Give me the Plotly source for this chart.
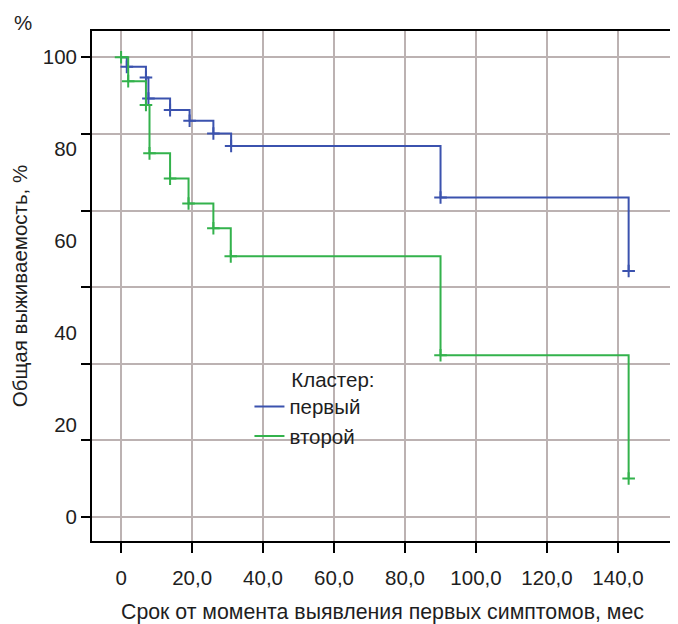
import plotly.graph_objects as go

# ---- data ----
blue_t = [0, 1.6, 7.0, 7.7, 13.8, 19.3, 26.0, 31.0, 90.0, 143.0]
blue_s = [100, 97.9, 95.6, 91.0, 88.5, 86.2, 83.4, 80.7, 69.5, 53.5]
green_t = [0, 2.0, 7.0, 8.0, 13.8, 19.0, 26.0, 30.9, 90.0, 143.0]
green_s = [100, 94.8, 89.6, 79.1, 73.6, 68.2, 62.8, 56.7, 35.2, 8.4]

series_names = ["первый", "второй"]
legend_title = "Кластер:"

x_tickvals = [0, 20, 40, 60, 80, 100, 120, 140]
x_ticktext = ["0", "20,0", "40,0", "60,0", "80,0", "100,0", "120,0", "140,0"]
y_gridvals = [0, 100 / 6, 200 / 6, 50, 400 / 6, 500 / 6, 100]
y_labelvals = [0, 20, 40, 60, 80, 100]
y_labeltext = ["0", "20", "40", "60", "80", "100"]

x_title = "Срок от момента выявления первых симптомов, мес"
y_title = "Общая выживаемость, %"

BLUE = "#3b52ae"
GREEN = "#33b24c"
GRID = "#bcb2b2"
TXT = "#1e1e1e"
FONT = "Liberation Sans, Arial, sans-serif"
FS = 20.5

x_range = [-8.2, 155.5]
y_range = [-5.2, 105.7]

fig = go.Figure()

fig.add_trace(go.Scatter(
    x=blue_t, y=blue_s, mode="lines", line=dict(color=BLUE, width=2, shape="hv"),
    name=series_names[0], legendrank=1,
))
fig.add_trace(go.Scatter(
    x=blue_t[1:], y=blue_s[1:], mode="markers", showlegend=False, hoverinfo="skip",
    marker=dict(symbol="cross-thin", size=9, line=dict(color=BLUE, width=2)),
))
fig.add_trace(go.Scatter(
    x=green_t, y=green_s, mode="lines", line=dict(color=GREEN, width=2, shape="hv"),
    name=series_names[1], legendrank=2, yaxis="y2",
))
fig.add_trace(go.Scatter(
    x=green_t, y=green_s, mode="markers", showlegend=False, hoverinfo="skip",
    marker=dict(symbol="cross-thin", size=9, line=dict(color=GREEN, width=2)),
))

fig.update_layout(
    width=670, height=616,
    margin=dict(l=84, r=5, t=23, b=83),
    paper_bgcolor="white", plot_bgcolor="white",
    font=dict(family=FONT, size=FS, color=TXT),
    showlegend=True,
    legend=dict(
        title=dict(text="\u00a0" * 7 + legend_title, font=dict(size=FS)),
        x=0.271, y=0.355, xanchor="left", yanchor="top",
        bgcolor="rgba(0,0,0,0)", borderwidth=0,
        font=dict(size=FS), itemwidth=30, tracegroupgap=0,
    ),
    xaxis=dict(
        range=x_range, tickvals=x_tickvals, ticktext=x_ticktext,
        showgrid=True, gridcolor=GRID, gridwidth=2, automargin=False,
        zeroline=False, showline=True, linecolor="black", linewidth=2, mirror=True,
        ticks="outside", ticklen=10, tickwidth=2, tickcolor="black",
        ticklabelstandoff=7,
        tickfont=dict(size=FS, color=TXT),
        title=dict(text=x_title, font=dict(size=21.3), standoff=20),
    ),
    yaxis=dict(
        range=y_range, tickvals=y_gridvals, showticklabels=False,
        showgrid=True, gridcolor=GRID, gridwidth=2, automargin=False,
        zeroline=False, showline=True, linecolor="black", linewidth=2,
        ticks="outside", ticklen=9, tickwidth=2, tickcolor="black",
    ),
    yaxis2=dict(
        range=y_range, overlaying="y", side="left", automargin=False,
        tickvals=y_labelvals, ticktext=y_labeltext,
        showgrid=False, zeroline=False, showline=False, ticks="",
        ticklabelstandoff=14,
        tickfont=dict(size=FS, color=TXT),
        title=dict(text=y_title, font=dict(size=FS), standoff=9),
    ),
    annotations=[dict(
        text="%", xref="paper", yref="paper", x=-0.119, y=1.017,
        xanchor="center", yanchor="middle", showarrow=False,
        font=dict(size=FS, color=TXT),
    )],
)

fig.write_html("out.html")
